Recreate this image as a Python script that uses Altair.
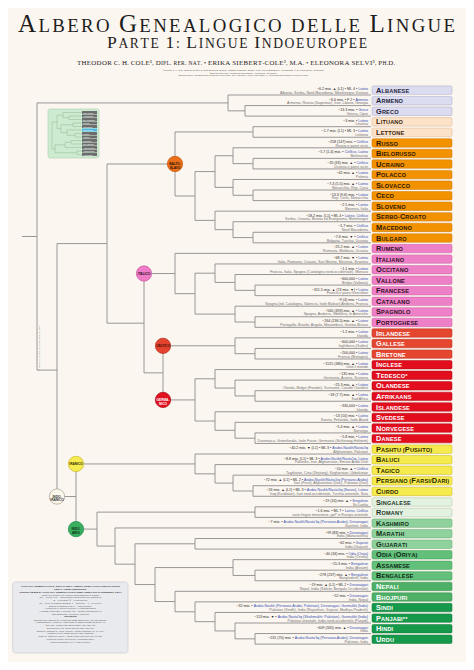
import altair as alt
import pandas as pd

# ------------------------------------------------------------------ data
languages = [
    "Albanese", "Armeno", "Greco", "Lituano", "Lettone",
    "Russo", "Bielorusso", "Ucraino", "Polacco", "Slovacco", "Ceco",
    "Sloveno", "Serbo-Croato", "Macedono", "Bulgaro",
    "Rumeno", "Italiano", "Occitano", "Vallone", "Francese", "Catalano",
    "Spagnolo", "Portoghese", "Irlandese", "Gallese", "Bretone",
    "Inglese", "Tedesco*", "Olandese", "Afrikaans", "Islandese", "Svedese",
    "Norvegese", "Danese", "Pashtu (Pushto)", "Baluci", "Tagico",
    "Persiano (Farsi/Dari)", "Curdo", "Singalese", "Romany", "Kashmiro",
    "Marathi", "Gujarati", "Odia (Oriya)", "Assamese", "Bengalese", "Nepali",
    "Bhojpuri", "Sindi", "Panjabi**", "Hindi", "Urdu",
]
groups = (["alb"] * 3 + ["balt"] * 2 + ["slav"] * 10 + ["rom"] * 8 + ["celt"] * 3
          + ["germ"] * 8 + ["iran"] * 5 + ["sr"] * 2 + ["ia1"] * 3 + ["ia2"] * 3
          + ["ia3"] * 2 + ["ia4"] * 4)
speakers = [
    "~6.2 mio. ▲ (L1) • ML 4 •", "~6.6 mio. • F 2 •", "~13.3 mio. •", "~3 mio. •",
    "~1.7 mio. (L1) • ML 3 •", "~258 (147) mio. •", "~5.7 (1.4) mio. •",
    "~35 (33) mio. ▲ •", "~42 mio. ▲ •", "~7.4 (5.5) mio. ▲ •", "~13.3 (9.6) mio. •",
    "~2.5 mio. •", "~18.2 mio. (L1) • ML 4 •", "~1.7 mio. •", "~7.6 mio. ▼ •",
    "~25.2 mio. ▲ •", "~68.7 mio. ▼ •", "~1.1 mio. •", "~600,000 •",
    "~311.5 mio. ▲ (74 mio. ▼) •", "~9 (4) mio. •", "~560 (493) mio. ▲ •",
    "~264 (236.5) mio. ▲ •", "~1.2 mio. •", "~600,000 •", "~200,000 •",
    "~1515 (380) mio. ▲ •", "~135 mio. •", "~25.3 mio. ▲ •", "~18 (7.7) mio. ▲ •",
    "~330,000 •", "~13 (10) mio. •", "~5.4 mio. ▲ •", "~5.8 mio. •",
    "~40.2 mio. ▼ (L1) • ML 3 •", "~8.8 mio. (L1) • ML 3 •", "~10 mio. ▲ •",
    "~72 mio. ▲ (L1) • ML 2 •", "~26 mio. ▲ (L1) • ML 3 •", "~19 (16) mio. ▲ •",
    "~1.6 mio. • ML 7 •", "~7 mio. •", "~99 (83) mio. •", "~62 mio. •",
    "~40 (34) mio. •", "~15.3 mio. •", "~278 (237) mio. ▲ •",
    "~19 mio. ▲ (L1) • ML 2 •", "~52 mio. •", "~32 mio. •", "~113 mio. ▼ •",
    "~609 (345) mio. ▲ •", "~231 (70) mio. •",
]
scripts = [
    "Latino", "Armeno", "Greco", "Latino", "Latino", "Cirillico", "Cirillico, Latino",
    "Cirillico", "Latino", "Latino", "Latino", "Latino", "Latino, Cirillico",
    "Cirillico", "Cirillico", "Latino", "Latino", "Latino", "Latino", "Latino",
    "Latino", "Latino", "Latino", "Latino", "Latino", "Latino", "Latino", "Latino",
    "Latino", "Latino", "Latino", "Latino", "Latino", "Latino",
    "Arabo-Naskh/Nasta'liq", "Arabo-Naskh/Nasta'liq, Latino", "Cirillico",
    "Arabo-Naskh/Nasta'liq (Persiano-Arabo)", "Arabo-Naskh/Nasta'liq (Sorani), Latino",
    "Singalese", "Latino, Cirillico",
    "Arabo-Naskh/Nasta'liq (Persiano-Arabo), Devanagari", "Devanagari", "Gujarati",
    "Odia (Oriya)", "Bengalese", "Bengalese", "Devanagari", "Devanagari",
    "Arabo-Naskh (Persiano-Arabo, Pakistan), Devanagari, Gurmukhi (India)",
    "Arabo-Nasta'liq (Shahmukhi: Pakistan), Gurmukhi (India)", "Devanagari",
    "Arabo-Nasta'liq (Persiano-Arabo), Devanagari",
]
regions = [
    "Albania, Serbia, Nord Macedonia, Montenegro, Kosovo",
    "Armenia, Russia (Dagestan), Iran, Libano, Georgia", "Grecia, Cipro", "Lituania",
    "Lettonia", "Russia e paesi vicini", "Bielorussia", "Ucraina e paesi vicini",
    "Polonia", "Slovacchia, Rep. Ceca", "Rep. Ceca, Slovacchia", "Slovenia, Italia",
    "Serbia, Croazia, Bosnia ed Erzegovina, Montenegro", "Nord Macedonia",
    "Bulgaria, Turchia, Ucraina", "Romania, Moldavia, Ucraina",
    "Italia, Romania, Croazia, San Marino, Slovenia, Svizzera",
    "Francia, Italia, Spagna (Catalogna nord-occidentale), Monaco",
    "Belgio (Vallonia)", "Francia e paesi francofoni",
    "Spagna (ed. Catalogna, Valencia, Isole Baleari) Andorra, Francia",
    "Spagna, Andorra, Gibilterra, le Americhe",
    "Portogallo, Brasile, Angola, Mozambico, Guinea-Bissau", "Irlanda",
    "Inghilterra (Galles)", "Francia (Bretagna)", "tutto il mondo",
    "Germania, Austria, Svizzera",
    "Olanda, Belgio (Fiandre), Suriname, Caraibi Olandesi", "Sud Africa", "Islanda",
    "Svezia, Finlandia, Isole Åland", "Norvegia",
    "Danimarca, Groenlandia, Isole Faroe, Germania (Schleswig-Holstein)",
    "Afghanistan, Pakistan", "Pakistan, Iran, Afghanistan, Emirati Arabi Uniti",
    "Tagikistan, Cina (Xinjiang), Kirghizistan, Uzbekistan",
    "Iran (Farsi), Afghanistan (Dari), Pakistan (Dari)",
    "Iraq (Kurdistan), Iran nord-occidentale, Turchia orientale, Siria", "Sri Lanka",
    "varie lingue minoritarie, ppf* in Europa orientale", "Kashmir, India",
    "India (Maharashtra)", "India (Gujarat)", "India (Orissa)", "India (Assam)",
    "Bangladesh, India", "Nepal, India (Sikkim, Bengala Occidentale)", "India, Nepal",
    "Pakistan (Sindh), India (Rajasthan, Gujarat, Madhya Pradesh)",
    "Pakistan orientale, India nord-occidentale (Punjab)", "India", "Pakistan, India",
]

# tree: (depth position, children[, clade id]); leaves are language names
tree = (37, [
    (228, ["Albanese", (245, ["Armeno", "Greco"])]),
    (57, [
        (107, [
            (175, [
                (253, ["Lituano", "Lettone"]),
                (195, [
                    (215, [
                        (233, ["Russo", (253, ["Bielorusso", "Ucraino"])]),
                        (233, ["Polacco", (253, ["Slovacco", "Ceco"])]),
                    ]),
                    (215, ["Sloveno", (233, ["Serbo-Croato", (253, ["Macedono", "Bulgaro"])])]),
                ]),
            ], "bs"),
            (144, [
                (175, [
                    "Rumeno",
                    (195, [
                        (215, ["Italiano", (235, ["Occitano", (255, ["Vallone", "Francese"])])]),
                        (235, ["Catalano", (255, ["Spagnolo", "Portoghese"])]),
                    ]),
                ], "ita"),
                (163, [
                    (235, ["Irlandese", (255, ["Gallese", "Bretone"])], "cel"),
                    (195, [
                        (215, ["Inglese", (235, ["Tedesco*", (255, ["Olandese", "Afrikaans"])])]),
                        (215, ["Islandese", (235, ["Svedese", (255, ["Norvegese", "Danese"])])]),
                    ], "ger"),
                ]),
            ]),
        ]),
        (76, [
            (195, ["Pashtu (Pushto)", (215, ["Baluci", (233, ["Tagico",
                   (253, ["Persiano (Farsi/Dari)", "Curdo"])])])], "ira"),
            (97, [
                (255, ["Singalese", "Romany"]),
                (115, ["Kashmiro", (135, [
                    (195, ["Marathi", "Gujarati"]),
                    (155, [
                        (233, ["Odia (Oriya)", (255, ["Assamese", "Bengalese"])]),
                        (175, ["Nepali", (195, ["Bhojpuri", (215, ["Sindi",
                               (235, ["Panjabi**", (255, ["Hindi", "Urdu"])])])])]),
                    ]),
                ])]),
            ], "ia"),
        ], "ii"),
    ]),
])
root_stub_start = 22
leaf_end = 371

# clade markers: label, clade id, depth position, fill, stroke, text colour
clades = [
    ("BALTO-\nSLAVO", "bs", 175, "#ec701b", "#c25510", "#2a1200"),
    ("ITALICO", "ita", 144, "#ee7cc6", "#c2579e", "#2a0a20"),
    ("CELTICO", "cel", 163, "#e3432f", "#b32e1c", "#3a0800"),
    ("GERMA-\nNICO", "ger", 163, "#e1101f", "#a80a14", "#ffffff"),
    ("IRANICO", "ira", 76, "#f6ec50", "#c8b828", "#2a2600"),
    ("INDO-\nIRANICO", "ii", 57, "#fbf7ea", "#a09e90", "#333333"),
    ("INDO-\nARIO", "ia", 76, "#38ae5f", "#23864a", "#0f2a16"),
]

group_style = {
    "alb": ("#dcdcf0", "#a6a6c8", "#23233a"),
    "balt": ("#fbe2c8", "#dcb48e", "#3a2410"),
    "slav": ("#f39200", "#c97700", "#2b1700"),
    "rom": ("#ee80c8", "#c85ea2", "#2d0f22"),
    "celt": ("#e5462f", "#b7301d", "#ffffff"),
    "germ": ("#e20e1e", "#ad0a14", "#ffffff"),
    "iran": ("#f6eb4e", "#c4b524", "#2a2600"),
    "sr": ("#e2f1e0", "#a9c9a9", "#25352a"),
    "ia1": ("#8fd29d", "#5fa96d", "#12301a"),
    "ia2": ("#62c07a", "#3f9c56", "#0f2a16"),
    "ia3": ("#4db066", "#338c4a", "#ffffff"),
    "ia4": ("#17994b", "#0c7636", "#ffffff"),
}

# overview inset (families of the poster series)
mini_rows = ["Niger-Congo", "Afroasiatiche", "Nilo-Sahariane", "Khoisan", "Caucasiche",
             "Indoeuropee", "Uraliche", "Altaiche", "Dravidiche", "Sino-Tibetane",
             "Austroasiatiche", "Austronesiane", "Amerindiane"]
mini_highlight = "Indoeuropee"
mini_tree = (52, [
    (57, [(63, ["Niger-Congo", (69, ["Afroasiatiche", "Nilo-Sahariane"])]),
          (61, [(73, ["Khoisan", "Caucasiche"]),
                (67, ["Indoeuropee", (75, ["Uraliche", "Altaiche"])])])]),
    (55, [(65, [(71, ["Dravidiche", "Sino-Tibetane"]), "Austroasiatiche"]),
          (77, ["Austronesiane", "Amerindiane"])]),
])

title_text = "Albero Genealogico delle Lingue"
subtitle_text = "Parte 1: Lingue Indoeuropee"
authors_text = ("THEODOR C. H. COLE¹, Dipl. rer. nat. • ERIKA SIEBERT-COLE², M.A. • "
                "ELEONORA SELVI³, Ph.D.")
footnotes = [
    "¹Theodor C. H. Cole, Dahlem Centre of Plant Sciences (DCPS), Institute of Biology, Botany, Freie Universität Berlin, Altensteinstr. 6, D-14195 Berlin, Germania",
    "²Erika Siebert-Cole, Traduzioni scientifiche, Heidelberg, Germania",
    "³Eleonora Selvi, Dipartimento di Scienze della Terra, dell'Ambiente e della Vita (DISTAV), Università degli Studi di Genova, Italia",
]
info_lines = [
    ("COLE TCH, SIEBERT-COLE E, SELVI E (2024) ALBERO GENEALOGICO DELLE LINGUE", True),
    ("Parte 1: Lingue Indoeuropee", True),
    ("Versione italiana di: COLE TCH, SIEBERT-COLE E (2020) Family Tree of Languages, Part 1", True),
    ("Lingue selezionate con il numero approssimativo di parlanti", False),
    ("mio. = milioni; (L1) = madrelingua; tra parentesi: solo parlanti L1", False),
    ("▲ = in crescita; ▼ = in diminuzione", False),
    ("ML = livello di minaccia (EGIDS): 1 = nazionale ... 7 = in pericolo", False),
    ("Sistemi di scrittura in blu; F = lingua ufficiale", False),
    ("* comprende lo svizzero tedesco e il lussemburghese", False),
    ("** panjabi occidentale e orientale; ppf = parlato principalmente in", False),
    ("Dati: Ethnologue, Glottolog, Wikipedia", False),
    ("Riferimenti", True),
    ("Eberhard DM, Simons GF, Fennig CD (2023) Ethnologue. SIL International", False),
    ("Hammarström H, Forkel R, Haspelmath M, Bank S (2023) Glottolog 4.8", False),
    ("Gray RD, Atkinson QD (2003) Nature 426: 435–439", False),
    ("Bouckaert R et al. (2012) Science 337: 957–960", False),
    ("Chang W, Cathcart C, Hall D, Garrett A (2015) Language 91: 194–244", False),
    ("Heggarty P et al. (2023) Science 381: eabg0818", False),
    ("Ringe D, Warnow T, Taylor A (2002) Trans Philol Soc 100: 59–129", False),
    ("Wikipedia: Lingue indoeuropee (consultato 2024)", False),
    ("www.researchgate.net  •  © 2024 gli autori", False),
]
side_note = "© 2024 T. C. H. Cole, E. Siebert-Cole, E. Selvi"

assert len(languages) == len(groups) == len(speakers) == len(scripts) == len(regions)

# ------------------------------------------------------------------ font metrics
SERIF = dict(A=.722, B=.667, C=.667, D=.722, E=.611, F=.556, G=.722, H=.722, I=.333,
             J=.389, K=.722, L=.611, M=.889, N=.722, O=.722, P=.556, Q=.722, R=.667,
             S=.556, T=.611, U=.722, V=.722, W=.944, X=.722, Y=.722, Z=.611)
SERIF.update({" ": .25, ".": .25, ",": .25, ":": .278, "-": .333, "•": .35,
              "¹": .3, "²": .3, "³": .3})
SERIF.update({d: .5 for d in "0123456789"})
SANSB = dict(A=.722, B=.722, C=.722, D=.722, E=.667, F=.611, G=.778, H=.722, I=.278,
             J=.556, K=.722, L=.611, M=.833, N=.722, O=.778, P=.667, Q=.778, R=.722,
             S=.667, T=.611, U=.722, V=.667, W=.944, X=.667, Y=.667, Z=.611)
SANSB.update({" ": .278, "(": .333, ")": .333, "/": .278, "-": .333, "*": .389})
SANS = dict(a=.556, b=.556, c=.5, d=.556, e=.556, f=.278, g=.556, h=.556, i=.222,
            j=.222, k=.5, l=.222, m=.833, n=.556, o=.556, p=.556, q=.556, r=.333,
            s=.5, t=.278, u=.556, v=.5, w=.722, x=.5, y=.5, z=.5,
            A=.667, B=.667, C=.722, D=.722, E=.667, F=.611, G=.778, H=.722, I=.278,
            J=.5, K=.667, L=.556, M=.833, N=.722, O=.778, P=.667, Q=.778, R=.722,
            S=.667, T=.611, U=.722, V=.667, W=.944, X=.667, Y=.667, Z=.611)
SANS.update({" ": .278, ",": .278, ".": .278, "(": .333, ")": .333, "-": .333,
             "/": .278, "'": .191, ":": .278})


def smallcaps(text, big, small, widths, tracking):
    out, x = [], 0.0
    for ch in text:
        if ch.isalpha() and ch.islower():
            g, s = ch.upper(), small
        elif ch.isalpha() or ch.isdigit():
            g, s = ch, big
        else:
            g, s = ch, small
        if ch != " ":
            out.append((g, x, s))
        x += widths.get(g, 0.6) * s + tracking
    return out, x - tracking


def fitted(text, big, small, widths, x0, x1):
    _, w = smallcaps(text, big, small, widths, 0.0)
    tr = (x1 - x0 - w) / (len(text) - 1)
    g, _ = smallcaps(text, big, small, widths, tr)
    return [(c, x0 + x, s) for c, x, s in g]


def text_width(s, size, table):
    return sum(table.get(c, 0.556) for c in s) * size


# ------------------------------------------------------------------ layout
def lay(node, rows, end, segs, ids):
    if isinstance(node, str):
        return rows[node], end
    x, kids = node[0], node[1]
    pts = [lay(k, rows, end, segs, ids) for k in kids]
    ys = [p[0] for p in pts]
    y = (ys[0] + ys[-1]) / 2
    segs.append(dict(x=x, x2=x, y=ys[0], y2=ys[-1]))
    for cy, cx in pts:
        segs.append(dict(x=x, x2=cx, y=cy, y2=cy))
    if len(node) > 2:
        ids[node[2]] = y
    return y, x


row_of = {n: i for i, n in enumerate(languages)}
segs, clade_y = [], {}
ry, rx = lay(tree, row_of, leaf_end, segs, clade_y)
segs.append(dict(x=root_stub_start, x2=rx, y=ry, y2=ry))
seg_df = pd.DataFrame(segs)

mini_row_of = {n: i for i, n in enumerate(mini_rows)}
mini_segs = []
lay(mini_tree, mini_row_of, 81.5, mini_segs, {})
mini_df = pd.DataFrame(mini_segs)

OFF = 8
XS = alt.Scale(domain=[8, 466])
YS = alt.Scale(domain=[-8.239, 53.693], reverse=True)
MYS = alt.Scale(domain=[-29.857, 157.0], reverse=True)


def X(f, s=XS):
    return alt.X(f, scale=s, axis=None)


def Y(f, s=YS):
    return alt.Y(f, scale=s, axis=None)


def PX(f):
    return alt.X(f, scale=None, axis=None)


def PY(f):
    return alt.Y(f, scale=None, axis=None)


LINE = "#8c8c8c"

# tree
tree_layer = alt.Chart(seg_df).mark_rule(color=LINE, strokeWidth=0.9).encode(
    x=X("x:Q"), x2="x2:Q", y=Y("y:Q"), y2="y2:Q")

# label boxes
box_df = pd.DataFrame({
    "row": range(len(languages)),
    "x0": 372, "x1": 452,
    "fill": [group_style[g][0] for g in groups],
    "stroke": [group_style[g][1] for g in groups],
})
box_df["top"] = box_df["row"] - 0.86
box_df["bot"] = box_df["row"] - 0.06
box_layer = alt.Chart(box_df).mark_rect(cornerRadius=1.3, strokeWidth=0.5).encode(
    x=X("x0:Q"), x2="x1:Q", y=Y("top:Q"), y2="bot:Q",
    fill=alt.Fill("fill:N", scale=None), stroke=alt.Stroke("stroke:N", scale=None))

glyphs = []
for i, (name, g) in enumerate(zip(languages, groups)):
    gl, _ = smallcaps(name, 7.4, 5.6, SANSB, 0.15)
    for c, x, s in gl:
        glyphs.append(dict(row=i, gx=376 + x, ch=c, size=s, color=group_style[g][2]))
label_layer = alt.Chart(pd.DataFrame(glyphs)).mark_text(
    align="left", baseline="alphabetic", font="Liberation Sans", fontWeight="bold",
    dy=-2.3).encode(
    x=X("gx:Q"), y=Y("row:Q"), text="ch:N",
    size=alt.Size("size:Q", scale=None), color=alt.Color("color:N", scale=None))

# annotations
ANN = 3.6
ann_df = pd.DataFrame({
    "row": range(len(languages)), "speakers": speakers, "script": scripts,
    "region": regions,
})
ann_df["xs"] = 368
ann_df["xp"] = [368 - text_width(s + " ", ANN, SANS) for s in scripts]
ann_base = alt.Chart(ann_df)
ann_num = ann_base.mark_text(align="right", baseline="alphabetic", font="Liberation Sans",
                             fontSize=ANN, dy=-5.0, color="#2a2a2a").encode(
    x=X("xp:Q"), y=Y("row:Q"), text="speakers:N")
ann_scr = ann_base.mark_text(align="right", baseline="alphabetic", font="Liberation Sans",
                             fontSize=ANN, dy=-5.0, color="#2f4fb0").encode(
    x=X("xs:Q"), y=Y("row:Q"), text="script:N")
ann_reg = ann_base.mark_text(align="right", baseline="alphabetic", font="Liberation Sans",
                             fontSize=ANN, dy=-1.3, color="#707070").encode(
    x=X("xs:Q"), y=Y("row:Q"), text="region:N")

# clade circles
cl_df = pd.DataFrame([dict(label=l, x=x, y=clade_y[c], fill=f, stroke=s, tcol=t)
                      for l, c, x, f, s, t in clades])
circle_layer = alt.Chart(cl_df).mark_circle(size=235, opacity=1, strokeWidth=0.7).encode(
    x=X("x:Q"), y=Y("y:Q"), fill=alt.Fill("fill:N", scale=None),
    stroke=alt.Stroke("stroke:N", scale=None))
circle_text = alt.Chart(cl_df).mark_text(
    font="Liberation Sans", fontWeight="bold", fontSize=3.2, lineBreak="\n",
    lineHeight=3.6, align="center", baseline="middle").encode(
    x=X("x:Q"), y=Y("y:Q"), text="label:N", color=alt.Color("tcol:N", scale=None))

# title block
tg = []
for c, x, s in fitted(title_text, 25, 18.8, SERIF, 18, 455):
    tg.append(dict(px=x - OFF, py=31.7 - OFF, ch=c, size=s))
for c, x, s in fitted(subtitle_text, 17.6, 13.6, SERIF, 107, 367):
    tg.append(dict(px=x - OFF, py=48.3 - OFF, ch=c, size=s))
for c, x, s in fitted(authors_text, 6.9, 5.5, SERIF, 77, 395):
    tg.append(dict(px=x - OFF, py=65.3 - OFF, ch=c, size=s))
title_layer = alt.Chart(pd.DataFrame(tg)).mark_text(
    align="left", baseline="alphabetic", font="Liberation Serif", color="#1d1d1d").encode(
    x=PX("px:Q"), y=PY("py:Q"), text="ch:N", size=alt.Size("size:Q", scale=None))

fn_df = pd.DataFrame({"t": footnotes, "py": [70.8 - OFF, 73.6 - OFF, 76.4 - OFF],
                      "px": 243 - OFF})
foot_layer = alt.Chart(fn_df).mark_text(
    align="center", baseline="alphabetic", font="Liberation Sans", fontSize=2.3,
    color="#555555").encode(x=PX("px:Q"), y=PY("py:Q"), text="t:N")

# inset overview
one = pd.DataFrame({"k": [0]})
inset_box = alt.Chart(one).mark_rect(fill="#cdebd0", stroke="#a9d2ad", strokeWidth=0.6,
                                     cornerRadius=2).encode(
    x=alt.value(48 - OFF), x2=alt.value(99 - OFF), y=alt.value(109 - OFF),
    y2=alt.value(158 - OFF))
inset_tree = alt.Chart(mini_df).mark_rule(color="#8fb894", strokeWidth=0.5).encode(
    x=X("x:Q"), x2="x2:Q", y=Y("y:Q", MYS), y2="y2:Q")
mb = pd.DataFrame({"row": range(len(mini_rows)), "name": mini_rows})
mb["x0"], mb["x1"] = 82, 97
mb["top"], mb["bot"] = mb["row"] - 0.42, mb["row"] + 0.42
mb["fill"] = ["#4db8e8" if n == mini_highlight else "#6b6b6b" for n in mini_rows]
inset_bars = alt.Chart(mb).mark_rect().encode(
    x=X("x0:Q"), x2="x1:Q", y=Y("top:Q", MYS), y2="bot:Q",
    fill=alt.Fill("fill:N", scale=None))
inset_text = alt.Chart(mb).mark_text(align="left", baseline="middle", fontSize=1.8,
                                     color="#ffffff", font="Liberation Sans", dx=1).encode(
    x=X("x0:Q"), y=Y("row:Q", MYS), text="name:N")

# info box
info_box = alt.Chart(one).mark_rect(fill="#e8eaee", stroke="#c4c8ce", strokeWidth=0.6,
                                    cornerRadius=2.5).encode(
    x=alt.value(12.7 - OFF), x2=alt.value(128 - OFF), y=alt.value(582 - OFF),
    y2=alt.value(653 - OFF))
iy, rows_i = 586.8, []
for t, bold in info_lines:
    rows_i.append(dict(t=t, py=iy - OFF, px=70.4 - OFF, w="bold" if bold else "normal"))
    iy += 2.95 if bold else 2.75
info_df = pd.DataFrame(rows_i)
info_b = alt.Chart(info_df[info_df.w == "bold"]).mark_text(
    align="center", baseline="alphabetic", font="Liberation Sans", fontWeight="bold",
    fontSize=2.4, color="#333333").encode(x=PX("px:Q"), y=PY("py:Q"), text="t:N")
info_n = alt.Chart(info_df[info_df.w == "normal"]).mark_text(
    align="center", baseline="alphabetic", font="Liberation Sans", fontSize=2.2,
    color="#555555").encode(x=PX("px:Q"), y=PY("py:Q"), text="t:N")

side_layer = alt.Chart(pd.DataFrame({"t": [side_note]})).mark_text(
    angle=270, fontSize=2.2, color="#777777", font="Liberation Sans", baseline="middle",
    align="center").encode(x=alt.value(39 - OFF), y=alt.value(348 - OFF), text="t:N")

chart = alt.layer(
    inset_box, inset_tree, inset_bars, inset_text,
    tree_layer, box_layer, label_layer, ann_num, ann_scr, ann_reg,
    circle_layer, circle_text, title_layer, foot_layer, info_box, info_b, info_n,
    side_layer,
).resolve_scale(x="independent", y="independent").properties(
    width=458, height=654, padding=0,
    autosize=alt.AutoSizeParams(type="none"),
).configure(background="#fcf6f0").configure_view(strokeWidth=0)

chart.save("out.html", embed_options={"renderer": "svg", "actions": False})
